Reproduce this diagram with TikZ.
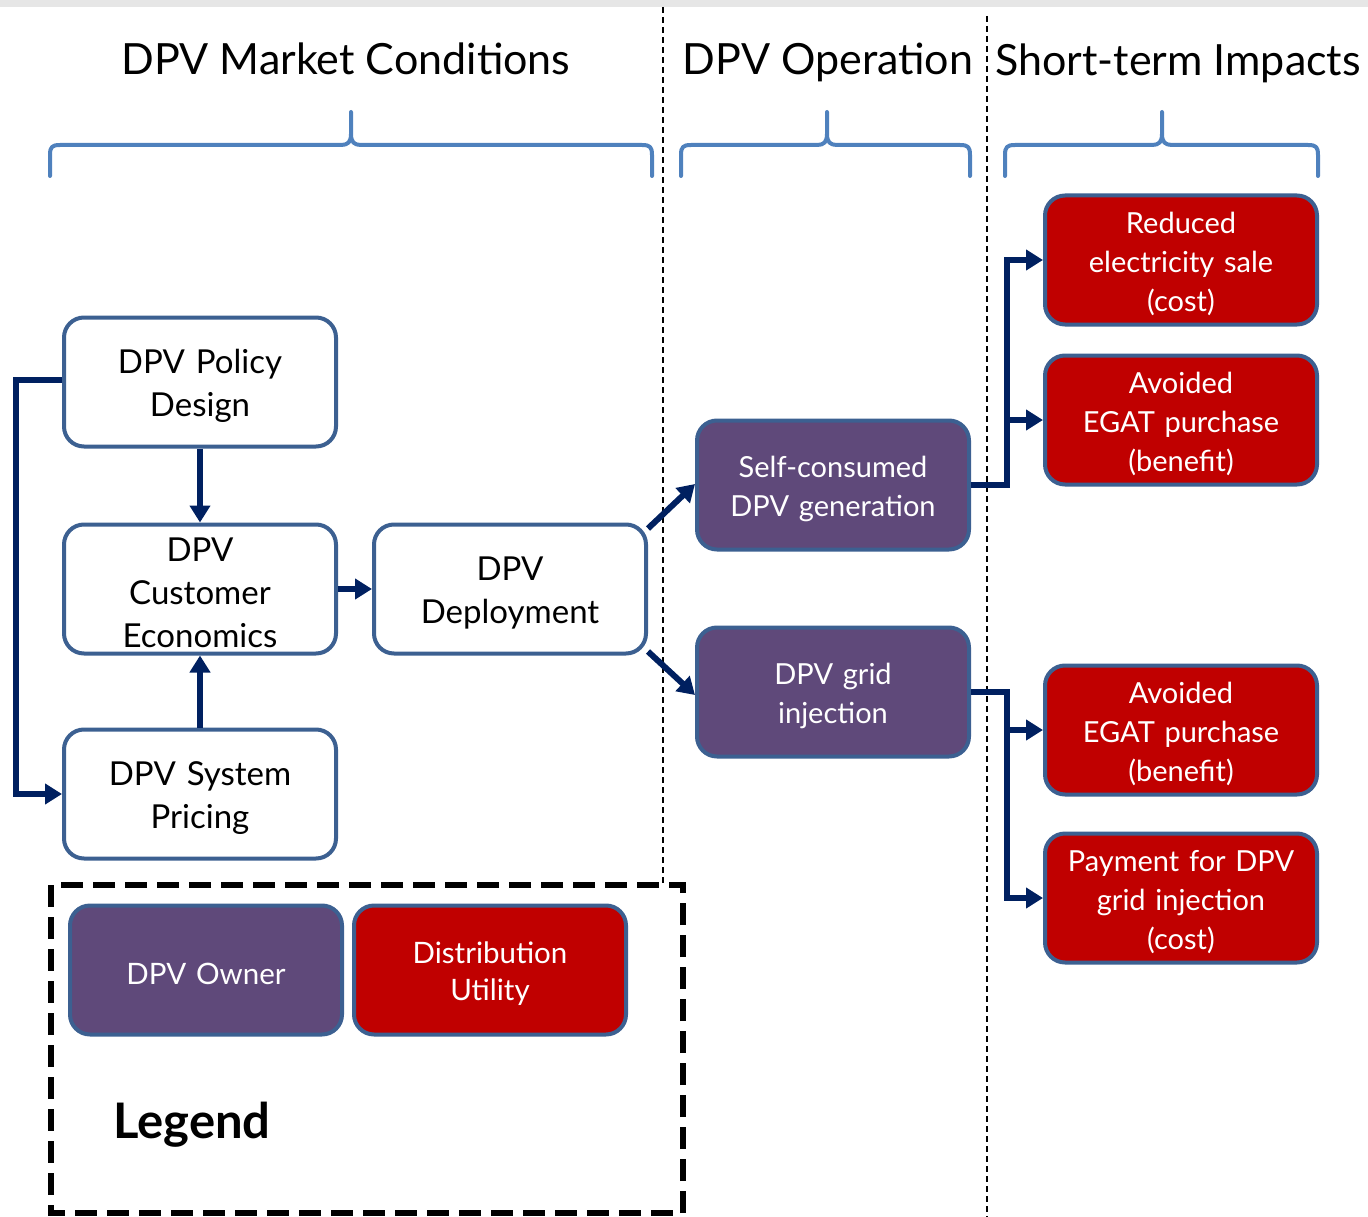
\documentclass[tikz,border=0pt]{standalone}
\usepackage{fontspec}
\setmainfont{Lato}
\usetikzlibrary{arrows.meta,calc}
\definecolor{navyln}{HTML}{002060}
\definecolor{bordc}{HTML}{3C6091}
\definecolor{ownerc}{HTML}{5F497A}
\definecolor{utilc}{HTML}{C00000}
\definecolor{bracec}{HTML}{4F81BD}
\definecolor{topbar}{HTML}{E6E6E6}

% curly bracket over a column: left x, right x, middle x
\newcommand\dpvbrace[3]{%
  \draw[bracec, line width=4pt, line cap=round, line join=round]
    (#1,176) -- (#1,155) .. controls (#1,147) and (#1+2,145) .. (#1+10,145)
    -- (#3-10,145) .. controls (#3-3,145) and (#3,142) .. (#3,134)
    .. controls (#3,142) and (#3+3,145) .. (#3+10,145)
    -- (#2-10,145) .. controls (#2-2,145) and (#2,147) .. (#2,155) -- (#2,176)
    (#3,134) -- (#3,112);}

% rounded box with its text set slightly below the geometric centre
\newcommand\dpvbox[4]{%
  \node[#1] (#2) at (#3) {};
  \node[#1, draw=none, fill=none, yshift=-4pt] (#2-txt) at (#2.center) {#4};}

\begin{document}
\begin{tikzpicture}[x=1pt,y=-1pt,
  box/.style={draw=bordc, line width=4pt, rounded corners=20pt,
    minimum width=272pt, minimum height=129pt, text width=262pt,
    align=center, inner sep=0pt},
  wbox/.style={box, fill=white, text=black, font=\fontsize{33}{43}\selectfont},
  ownerbox/.style={box, fill=ownerc, text=white, font=\fontsize{29}{39}\selectfont},
  utilbox/.style={box, fill=utilc, text=white, font=\fontsize{29}{39}\selectfont},
  lgownerbox/.style={ownerbox, font=\fontsize{29.5}{37}\selectfont},
  lgutilbox/.style={utilbox, font=\fontsize{29.5}{37}\selectfont},
  title/.style={font=\fontsize{43}{50}\selectfont, inner sep=0pt, anchor=base},
  link/.style={draw=navyln, line width=6pt, line join=miter,
    -{Triangle[length=17pt,width=20pt]}},
  sep/.style={draw=black, line width=1.5pt, dash pattern=on 6pt off 4pt},
]
\useasboundingbox (0,0) rectangle (1368,1217);
\fill[topbar] (0,0) rectangle (1368,7);

% column separators
\draw[sep] (663,7) -- (663,885);
\draw[sep] (987,16) -- (987,1217);

% column headings
\node[title] (tmarket) at (346,75) {DPV Market Conditions};
\node[title] (toper)   at (828,75) {DPV Operation};
\node[title] (timpact) at (1178,76) {Short-term Impacts};

\dpvbrace{50}{652}{351}
\dpvbrace{681}{970}{827}
\dpvbrace{1005}{1318}{1162}

% market conditions
\dpvbox{wbox}{pol}{200,382}{DPV Policy\\Design}
\dpvbox{wbox}{cust}{200,589}{DPV\\Customer\\Economics}
\dpvbox{wbox}{pri}{200,794}{DPV System\\Pricing}
\dpvbox{wbox}{dep}{510,589}{DPV\\Deployment}

% operation
\dpvbox{ownerbox}{self}{833,485}{Self-consumed\\DPV generation}
\dpvbox{ownerbox}{grid}{833,692}{DPV grid\\injection}

% impacts
\dpvbox{utilbox}{sale}{1181,260}{Reduced\\electricity sale\\(cost)}
\dpvbox{utilbox}{egat1}{1181,420}{Avoided\\EGAT purchase\\(benefit)}
\dpvbox{utilbox}{egat2}{1181,730}{Avoided\\EGAT purchase\\(benefit)}
\dpvbox{utilbox}{pay}{1181,898}{Payment for DPV\\grid injection\\(cost)}

% connectors
\draw[link] (pol.south) -- (cust.north);
\draw[link] (pri.north) -- (cust.south);
\draw[link] (cust.east) -- (dep.west);
\draw[link] ([yshift=2pt]pol.west) -- ++(-46,0) |- (pri.west);
\draw[link] ([yshift=-6pt]dep.north east) -- ([yshift=1pt]self.west);
\draw[link] ([yshift=4pt]dep.south east) -- ([yshift=-3pt]grid.west);
\draw[link] (self.east) -- ++(36,0) |- (sale.west);
\draw[link] (self.east) -- ++(36,0) |- (egat1.west);
\draw[link] (grid.east) -- ++(36,0) |- (egat2.west);
\draw[link] (grid.east) -- ++(36,0) |- (pay.west);

% legend
\draw[black, line width=6pt, dash pattern=on 22pt off 10pt] (51,885) rectangle (683,1213);
\dpvbox{lgownerbox}{lgowner}{206,970}{DPV Owner}
\dpvbox{lgutilbox}{lgutil}{490,970}{Distribution\\Utility}
\node[font=\fontsize{49}{54}\selectfont\bfseries, anchor=west, inner sep=0pt] (lgtitle) at (113,1125) {Legend};
\end{tikzpicture}
\end{document}
